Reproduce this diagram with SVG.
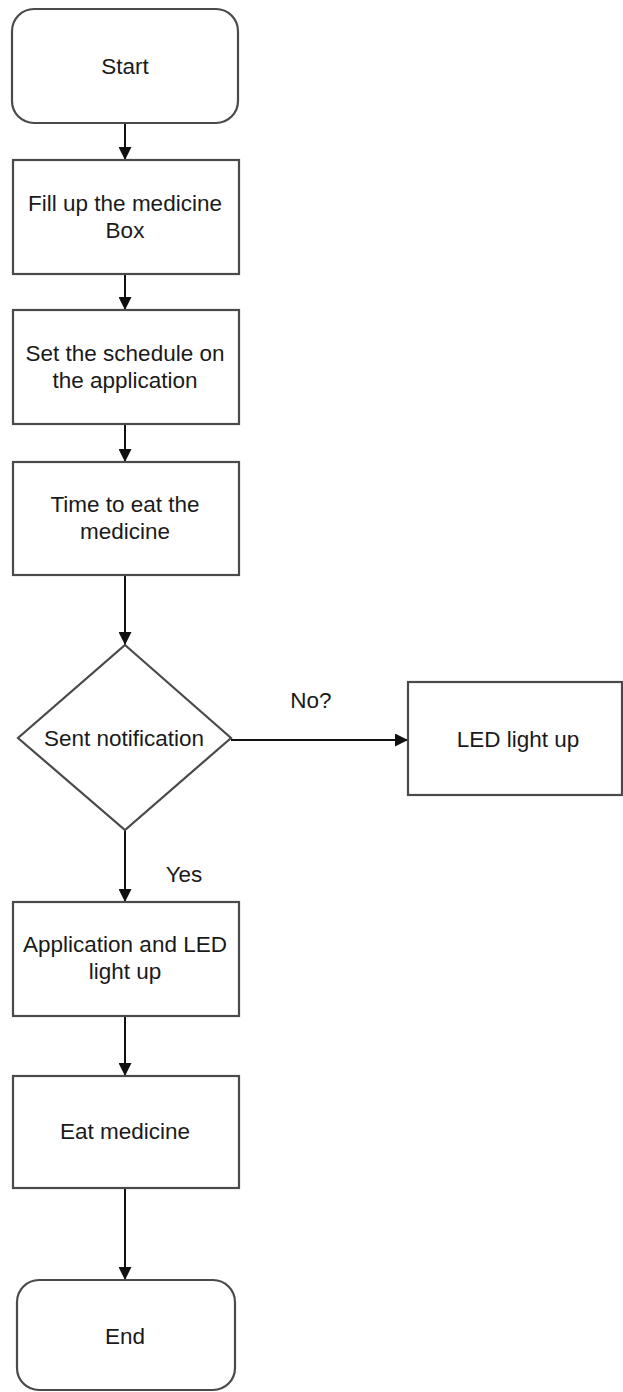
<svg xmlns="http://www.w3.org/2000/svg" width="623" height="1392" viewBox="0 0 623 1392">
<defs>
<marker id="arr" viewBox="0 0 10 10" refX="10" refY="5" markerWidth="6.5" markerHeight="6.5" orient="auto" markerUnits="strokeWidth">
<path d="M0,0 L10,5 L0,10 Z" fill="#111"/>
</marker>
<style>
.shape{fill:#fff;stroke:#4a4a4a;stroke-width:2.2}
.edge{fill:none;stroke:#111;stroke-width:2;marker-end:url(#arr)}
text{font-family:"Liberation Sans",Arial,sans-serif;font-size:22.5px;fill:#1a1a1a;text-anchor:middle}
</style>
</defs>
<rect width="623" height="1392" fill="#fff"/>
<g id="connectors">
<path class="edge" d="M125,123 L125,160"/>
<path class="edge" d="M125,274 L125,310"/>
<path class="edge" d="M125,424 L125,462"/>
<path class="edge" d="M125,575 L125,645"/>
<path class="edge" d="M231,740 L408,740"/>
<path class="edge" d="M125,830 L125,902"/>
<path class="edge" d="M125,1016 L125,1076"/>
<path class="edge" d="M125,1188 L125,1280"/>
<text x="311" y="708">No?</text>
<text x="184" y="882">Yes</text>
</g>
<g id="start">
<rect class="shape" x="12" y="9" width="226" height="114" rx="22"/>
<text x="125" y="74">Start</text>
</g>
<g id="fill">
<rect class="shape" x="13" y="160" width="226" height="114"/>
<text x="125" y="211">Fill up the medicine</text>
<text x="125" y="238">Box</text>
</g>
<g id="schedule">
<rect class="shape" x="13" y="310" width="226" height="114"/>
<text x="125" y="361">Set the schedule on</text>
<text x="125" y="388">the application</text>
</g>
<g id="time">
<rect class="shape" x="13" y="462" width="226" height="113"/>
<text x="125" y="512">Time to eat the</text>
<text x="125" y="539">medicine</text>
</g>
<g id="decision">
<path class="shape" d="M125,645 L231,738 L125,830 L18,738 Z"/>
<text x="124" y="746">Sent notification</text>
</g>
<g id="led">
<rect class="shape" x="408" y="682" width="214" height="113"/>
<text x="518" y="747">LED light up</text>
</g>
<g id="app">
<rect class="shape" x="13" y="902" width="226" height="114"/>
<text x="125" y="952">Application and LED</text>
<text x="125" y="979">light up</text>
</g>
<g id="eat">
<rect class="shape" x="13" y="1076" width="226" height="112"/>
<text x="125" y="1139">Eat medicine</text>
</g>
<g id="end">
<rect class="shape" x="17" y="1280" width="218" height="110" rx="22"/>
<text x="125" y="1344">End</text>
</g>
</svg>
